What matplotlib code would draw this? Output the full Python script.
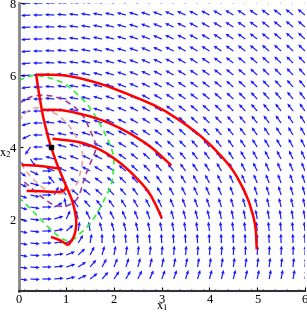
import numpy as np
import matplotlib
matplotlib.use("Agg")
from matplotlib import pyplot as plt
from matplotlib.path import Path
from matplotlib.patches import PathPatch

plt.rcParams["font.family"] = ["Liberation Serif", "DejaVu Serif"]
plt.rcParams["mathtext.fontset"] = "stix"

# Trajectories (red)
traj1_x = [0.37, 1.01, 1.7, 2.4, 2.96, 3.44, 3.8, 4.13, 4.49, 4.78, 4.95, 4.99]
traj1_y = [6.01, 5.98, 5.76, 5.41, 5.08, 4.68, 4.32, 3.91, 3.35, 2.63, 1.88, 1.16]
traj2_x = [0.49, 0.97, 1.67, 2.23, 2.75, 3.2]
traj2_y = [5.03, 5.01, 4.78, 4.45, 4.02, 3.49]
traj3_x = [0.71, 1.32, 1.81, 2.26, 2.68, 2.89, 3.0]
traj3_y = [4.23, 4.12, 3.85, 3.41, 2.83, 2.35, 2.02]
switch_x = [0.37, 0.49, 0.64, 0.8, 0.99, 1.14, 1.21, 1.16, 1.04]
switch_y = [6.01, 5.01, 4.18, 3.55, 2.94, 2.44, 1.91, 1.52, 1.27]
short_a_x = [0.07, 0.4, 0.7, 0.86]
short_a_y = [3.5, 3.48, 3.43, 3.4]
short_b_x = [0.17, 0.5, 0.8, 0.95, 1.0]
short_b_y = [2.78, 2.77, 2.75, 2.79, 2.92]
short_c_x = [0.68, 0.85, 1.04]
short_c_y = [1.5, 1.42, 1.27]

# Dashed level curves
green_x = [0.0, 0.2, 0.37, 0.7, 0.97, 1.22, 1.43, 1.6, 1.74, 1.88, 1.98, 2.0,
           1.95, 1.8, 1.64, 1.45, 1.29, 1.11, 0.9, 0.62, 0.35, 0.0]
green_y = [5.85, 5.95, 5.99, 5.9, 5.75, 5.48, 5.2, 4.88, 4.55, 4.18, 3.81, 3.6,
           3.0, 2.55, 2.15, 1.8, 1.6, 1.41, 1.46, 1.78, 2.15, 2.61]
purple_x = [0.0, 0.28, 0.62, 0.97, 1.32, 1.53, 1.62, 1.6, 1.53, 1.39, 1.25,
            1.04, 0.76, 0.49, 0.2, 0.0]
purple_y = [5.2, 5.4, 5.43, 5.29, 4.92, 4.37, 4.05, 3.85, 3.63, 3.17, 2.61,
            2.38, 2.38, 2.61, 2.94, 3.15]
pink_x = [0.0, 0.2, 0.41, 0.62, 0.83, 1.05, 1.25, 1.34, 1.32, 1.22, 1.04,
          0.76, 0.49, 0.2, 0.0]
pink_y = [4.72, 5.01, 5.09, 5.01, 4.88, 4.6, 4.18, 3.8, 3.44, 2.98, 2.75,
          2.71, 2.89, 3.26, 3.63]

dot_x = [0.69]
dot_y = [4.0]

x_ticks = [0, 1, 2, 3, 4, 5, 6]
y_ticks = [2, 4, 6, 8]


def smooth_path(xs, ys):
    """Catmull-Rom style bezier path through the given points."""
    p = np.column_stack([xs, ys]).astype(float)
    verts = [p[0]]
    codes = [Path.MOVETO]
    for i in range(len(p) - 1):
        p0 = p[i - 1] if i > 0 else p[i]
        p3 = p[i + 2] if i + 2 < len(p) else p[i + 1]
        c1 = p[i] + (p[i + 1] - p0) / 6
        c2 = p[i + 1] - (p3 - p[i]) / 6
        verts += [c1, c2, p[i + 1]]
        codes += [Path.CURVE4] * 3
    return Path(verts, codes)


fig = plt.figure(figsize=(3.07, 3.13), dpi=100)
ax = fig.add_axes([0.0603, 0.0703, 0.933, 0.92])

# Direction field on a 25x25 grid
gx, gy = np.meshgrid(np.linspace(0, 6, 25), np.linspace(0, 8, 25))
yc = 1.2 + 2.8 * np.exp(-gx ** 2)
u = yc - gy
v = 1.3 * (gx - 0.5) * np.tanh(5 * gy)
# normalise in screen pixels (47.8 px per x unit, 36.1 px per y unit)
pu, pv = u * 47.8, v * 36.1
n = np.hypot(pu, pv) + 1e-9
L = 9.5
U = pu / n * L / 47.8
V = pv / n * L / 36.1
ax.quiver(gx, gy, U, V, angles="xy", scale_units="xy", scale=1,
          color="#1a1aff", width=0.0042, headwidth=3.0, headlength=3.3,
          headaxislength=3.0, zorder=1)

for xs, ys, c in [(pink_x, pink_y, "#e6a8a4"), (purple_x, purple_y, "#9b3f9b"),
                  (green_x, green_y, "#33ee33")]:
    ax.add_patch(PathPatch(smooth_path(xs, ys), fill=False, edgecolor=c,
                           lw=1.2, linestyle=(0, (3.5, 2.5)), zorder=2))

for xs, ys in [(traj1_x, traj1_y), (traj2_x, traj2_y), (traj3_x, traj3_y),
               (switch_x, switch_y), (short_a_x, short_a_y),
               (short_b_x, short_b_y), (short_c_x, short_c_y)]:
    ax.add_patch(PathPatch(smooth_path(xs, ys), fill=False, edgecolor="#ff0000",
                           lw=1.8, zorder=3))

ax.plot(dot_x, dot_y, "s", color="black", ms=3.5, zorder=4)

ax.set_xlim(0, 6)
ax.set_ylim(0, 8)
ax.set_xticks(x_ticks)
ax.set_yticks(y_ticks)
ax.tick_params(direction="in", length=3, labelsize=9, pad=2)
for s in ["top", "right"]:
    ax.spines[s].set_visible(False)
ax.spines["left"].set_color("#888888")
ax.spines["left"].set_linewidth(2)
ax.spines["bottom"].set_color("#333333")
ax.spines["bottom"].set_linewidth(1.5)

ax.set_xlabel(r"$\mathrm{x}_{1}$", fontsize=9)
ax.xaxis.set_label_coords(0.5, -0.055)
ax.xaxis.label.set_va("center")
ax.set_ylabel(r"$\mathrm{x}_{2}$", fontsize=9, rotation=0)
ax.yaxis.set_label_coords(-0.045, 0.476)
ax.yaxis.label.set_va("center")
ax.yaxis.label.set_ha("center")

fig.savefig("out.png", dpi=100)
